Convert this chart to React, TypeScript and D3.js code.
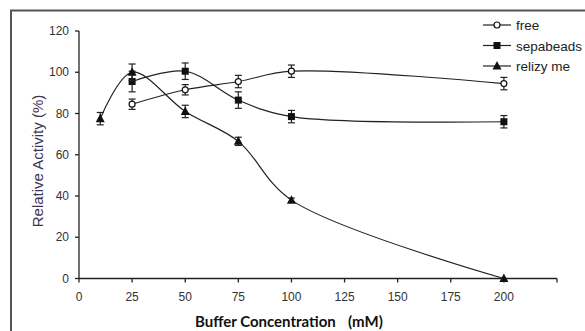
import React, { useEffect, useRef } from 'react';
import * as d3 from 'd3';

const xTicks = [0, 25, 50, 75, 100, 125, 150, 175, 200, 225];
const yTicks = [0, 20, 40, 60, 80, 100, 120];

const freeX = [25, 50, 75, 100, 200];
const freeY = [84.5, 91.5, 95.5, 100.5, 94.5];
const freeErr = [2.5, 2.5, 3, 3, 3];

const sepaX = [25, 50, 75, 100, 200];
const sepaY = [95.5, 100.5, 86.5, 78.5, 76];
const sepaErr = [5, 4, 4, 3, 3];

const relizX = [10, 25, 50, 75, 100, 200];
const relizY = [77.5, 100, 81, 66.5, 38, 0];
const relizErr = [3, 4, 3, 2, 1, 0];

const legendLabels = ['free', 'sepabeads', 'relizy me'];

const W = 585;
const H = 331;

const App = () => {
  const svgRef = useRef<SVGSVGElement>(null);

  useEffect(() => {
    const svg = d3.select(svgRef.current);
    svg.selectAll('*').remove();

    const x = d3.scaleLinear().domain([0, 225]).range([79, 557]);
    const y = d3.scaleLinear().domain([0, 120]).range([278.5, 31]);

    // frame
    svg
      .append('path')
      .attr('d', `M11,${H + 5} L11,10.5 L${W + 5},10.5`)
      .attr('fill', 'none')
      .attr('stroke', '#555')
      .attr('stroke-width', 2);

    // axes
    const ax = svg.append('g').attr('stroke', '#222').attr('stroke-width', 1.3);
    ax.append('line').attr('x1', x(0)).attr('x2', x(225)).attr('y1', y(0)).attr('y2', y(0));
    ax.append('line').attr('x1', x(0)).attr('x2', x(0)).attr('y1', y(0)).attr('y2', y(120));
    ax.selectAll('.xt')
      .data(xTicks)
      .join('line')
      .attr('x1', d => x(d))
      .attr('x2', d => x(d))
      .attr('y1', y(0))
      .attr('y2', y(0) + 4);
    ax.selectAll('.yt')
      .data(yTicks)
      .join('line')
      .attr('x1', x(0) - 4)
      .attr('x2', x(0))
      .attr('y1', d => y(d))
      .attr('y2', d => y(d));

    svg
      .append('g')
      .selectAll('text')
      .data(xTicks.filter(d => d <= 200))
      .join('text')
      .attr('x', d => x(d))
      .attr('y', y(0) + 22)
      .attr('text-anchor', 'middle')
      .attr('font-family', 'Liberation Sans, Arial, sans-serif')
      .attr('font-size', 12)
      .attr('fill', '#333')
      .text(d => d);

    svg
      .append('g')
      .selectAll('text')
      .data(yTicks)
      .join('text')
      .attr('x', x(0) - 10)
      .attr('y', d => y(d) + 4)
      .attr('text-anchor', 'end')
      .attr('font-family', 'Liberation Sans, Arial, sans-serif')
      .attr('font-size', 12)
      .attr('fill', '#333')
      .text(d => d);

    svg
      .append('text')
      .attr('transform', `translate(43,161) rotate(-90)`)
      .attr('text-anchor', 'middle')
      .attr('font-family', 'Liberation Sans, Arial, sans-serif')
      .attr('font-size', 15)
      .attr('fill', '#3b3558')
      .text('Relative Activity (%)');

    svg
      .append('text')
      .attr('x', 195)
      .attr('y', 327)
      .attr('font-family', 'Lato, Open Sans, sans-serif')
      .attr('font-weight', 'bold')
      .attr('font-size', 15)
      .attr('fill', '#111')
      .text('Buffer Concentration');
    svg
      .append('text')
      .attr('x', 348)
      .attr('y', 327)
      .attr('font-family', 'Lato, Open Sans, sans-serif')
      .attr('font-weight', 'bold')
      .attr('font-size', 15)
      .attr('fill', '#111')
      .text('(mM)');

    const curve = d3
      .line<[number, number]>()
      .x(d => x(d[0]))
      .y(d => y(d[1]))
      .curve(d3.curveCatmullRom.alpha(0.5));

    const series = [
      { xs: freeX, ys: freeY, es: freeErr, m: 'circle' },
      { xs: sepaX, ys: sepaY, es: sepaErr, m: 'square' },
      { xs: relizX, ys: relizY, es: relizErr, m: 'triangle' }
    ];

    const drawMarker = (g: any, m: string, cx: number, cy: number) => {
      if (m === 'circle') {
        g.append('circle')
          .attr('cx', cx)
          .attr('cy', cy)
          .attr('r', 3)
          .attr('fill', '#fff')
          .attr('stroke', '#111')
          .attr('stroke-width', 1.2);
      } else if (m === 'square') {
        g.append('rect')
          .attr('x', cx - 3.5)
          .attr('y', cy - 3.5)
          .attr('width', 7)
          .attr('height', 7)
          .attr('fill', '#111');
      } else {
        g.append('path')
          .attr('d', `M${cx},${cy - 5} L${cx + 4.5},${cy + 3.5} L${cx - 4.5},${cy + 3.5} Z`)
          .attr('fill', '#111');
      }
    };

    series.forEach(s => {
      const pts = s.xs.map((v, i) => [v, s.ys[i]] as [number, number]);
      svg
        .append('path')
        .attr('d', curve(pts))
        .attr('fill', 'none')
        .attr('stroke', '#222')
        .attr('stroke-width', 1.2);
      const g = svg.append('g');
      pts.forEach((p, i) => {
        const e = s.es[i];
        if (e > 0) {
          const eg = g.append('g').attr('stroke', '#222').attr('stroke-width', 1.2);
          const cx = x(p[0]);
          eg.append('line').attr('x1', cx).attr('x2', cx).attr('y1', y(p[1] + e)).attr('y2', y(p[1] - e));
          eg.append('line').attr('x1', cx - 3.5).attr('x2', cx + 3.5).attr('y1', y(p[1] + e)).attr('y2', y(p[1] + e));
          eg.append('line').attr('x1', cx - 3.5).attr('x2', cx + 3.5).attr('y1', y(p[1] - e)).attr('y2', y(p[1] - e));
        }
        drawMarker(g, s.m, x(p[0]), y(p[1]));
      });
    });

    // legend
    const lg = svg.append('g');
    legendLabels.forEach((lab, i) => {
      const ly = 25 + i * 20.5;
      lg.append('line')
        .attr('x1', 483)
        .attr('x2', 511)
        .attr('y1', ly)
        .attr('y2', ly)
        .attr('stroke', '#222')
        .attr('stroke-width', 1.2);
      drawMarker(lg, series[i].m, 497, ly);
      lg.append('text')
        .attr('x', 516)
        .attr('y', ly + 5)
        .attr('font-family', 'Liberation Sans, Arial, sans-serif')
        .attr('font-size', 13.5)
        .attr('fill', '#222')
        .text(lab);
    });
  }, []);

  return (
    <svg
      ref={svgRef}
      width={W}
      height={H}
      style={{ position: 'absolute', left: 0, top: 0, background: '#fff' }}
    />
  );
};

export default App;
